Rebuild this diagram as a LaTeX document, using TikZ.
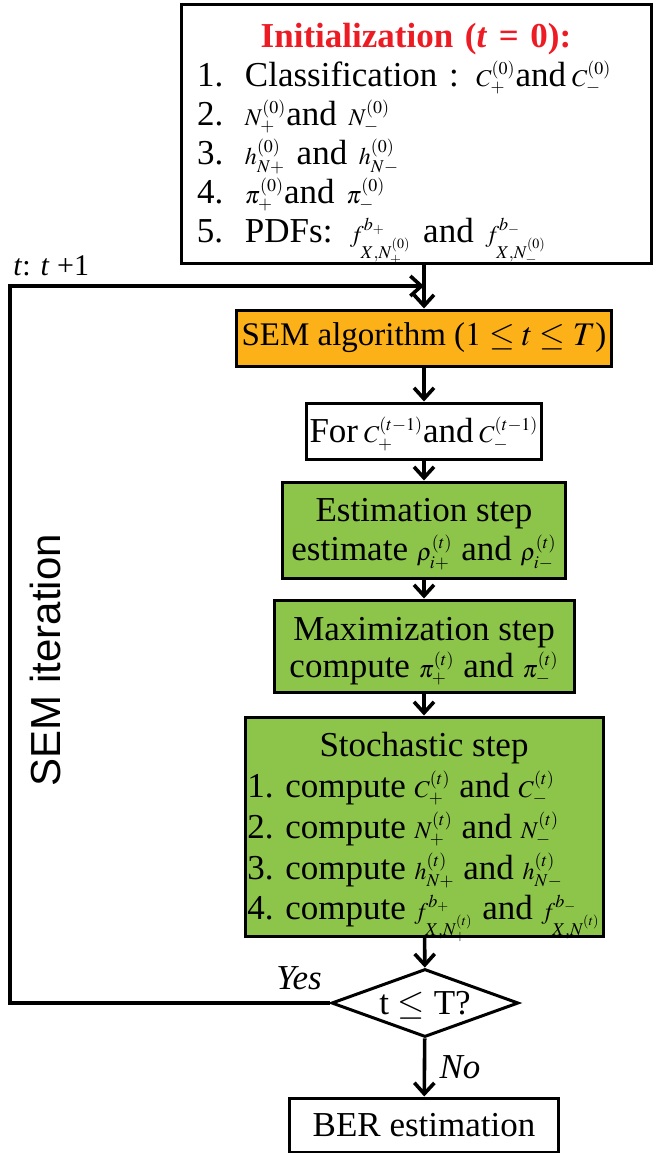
\documentclass[tikz,border=0pt]{standalone}
\usepackage{mathptmx}
\usepackage{fontspec}
\setmainfont{Liberation Serif}
\newfontfamily\sansf{Liberation Sans}
\usetikzlibrary{shapes.geometric,arrows.meta}
\definecolor{semorange}{RGB}{251,177,23}
\definecolor{stepgreen}{RGB}{141,196,74}
\definecolor{initred}{RGB}{237,28,36}
\newcommand{\sm}[1]{\smash{{\fontsize{12}{12}\selectfont$#1$}}}
\newcommand{\itm}[1]{\makebox[24pt][l]{#1}}

\begin{document}
\begin{tikzpicture}[x=0.5pt,y=-0.5pt,
  every node/.style={font=\fontsize{17.5}{19.5}\selectfont},
  L/.style={line width=1.8pt},
  arr/.style={L,-{Straight Barb[length=5.5pt,width=10pt]}},
  box/.style={draw,line width=1.5pt,rectangle,inner sep=0pt},
  stepbox/.style={box,fill=stepgreen,align=center}]

  \useasboundingbox (0,0) rectangle (653,1153);

  %% ---- initialization block
  \node[box,minimum width=235pt,minimum height=129.5pt,text width=219pt,align=left] (init) at (416,133.5)
    {\centering\textcolor{initred}{\textbf{Initialization (\textit{t} = 0):}}\par
     \raggedright
     \itm{1.}Classification : \sm{C_+^{(0)}}and\,\sm{C_-^{(0)}}\\
     \itm{2.}\sm{N_+^{(0)}}and \sm{N_-^{(0)}}\\
     \itm{3.}\sm{h_{N+}^{(0)}} and \sm{h_{N-}^{(0)}}\\
     \itm{4.}\sm{\pi_+^{(0)}}and \sm{\pi_-^{(0)}}\\
     \itm{5.}PDFs: \sm{f_{X{,}N_+^{(0)}}^{b_+}} and \sm{f_{X{,}N_-^{(0)}}^{b_-}}};

  %% ---- SEM loop
  \node[box,fill=semorange,minimum width=187.5pt,minimum height=28pt,font=\fontsize{16.5}{19}\selectfont] (sem) at (424,338)
    {SEM algorithm ({\thickmuskip=4mu$1\leq t\leq T$})};
  \node[box,minimum width=117.5pt,minimum height=28pt] (for) at (424,431)
    {For\,\sm{C_+^{(t-1)}}and\,\sm{C_-^{(t-1)}}};
  \node[stepbox,minimum width=141.5pt,minimum height=48pt] (est) at (424,530)
    {Estimation step\\ estimate \sm{\rho_{i+}^{(t)}} and \sm{\rho_{i-}^{(t)}}};
  \node[stepbox,minimum width=150pt,minimum height=46pt,font=\fontsize{17.5}{18.5}\selectfont] (max) at (424,646)
    {\rule{0pt}{17pt}Maximization step\\ compute \sm{\pi_+^{(t)}} and \sm{\pi_-^{(t)}}};
  \node[stepbox,minimum width=179pt,minimum height=109.5pt] (sto) at (424,826.5)
    {\renewcommand\arraystretch{1.045}%
     \begin{tabular}{@{}l@{}}
      \multicolumn{1}{@{}c@{}}{\rule{0pt}{18pt}Stochastic step}\\
      1. compute \sm{C_+^{(t)}} and \sm{C_-^{(t)}}\\
      2. compute \sm{N_+^{(t)}} and \sm{N_-^{(t)}}\\
      3. compute \sm{h_{N+}^{(t)}} and \sm{h_{N-}^{(t)}}\\
      4. compute \sm{f_{X{,}N_+^{(t)}}^{b_+}} and \sm{f_{X{,}N_-^{(t)}}^{b_-}}
     \end{tabular}};
  \node[draw,line width=1.5pt,diamond,inner sep=0pt,minimum width=93.5pt,minimum height=34pt] (dec) at (425,1003)
    {\smash{\makebox[0pt]{\raisebox{-0.33em}{t $\leq$ T?}}}};
  \node[box,minimum width=134.5pt,minimum height=27pt] (ber) at (424,1125) {BER estimation};

  %% ---- labels
  \node[anchor=west,inner sep=0pt,font=\fontsize{15}{15}\selectfont] (tinc) at (13,266) {\textit{t}: \textit{t} +1};
  \node (yes) at (299,978) {\textit{Yes}};
  \node (no) at (460,1067) {\textit{No}};
  \node[rotate=90,font=\sansf\fontsize{21}{21}\selectfont] (iter) at (45,660) {SEM iteration};

  %% ---- connectors
  \coordinate (loop) at (10,286);
  \draw[arr] (init.south -| sem.north) -- (sem.north);
  \draw[arr] (sem) -- (for);
  \draw[arr] (for) -- (est);
  \draw[arr] (est) -- (max);
  \draw[arr] (max) -- (sto);
  \draw[arr] (sto) -- (dec);
  \draw[arr] (dec) -- (ber);
  \draw[arr] (dec.west) -| (loop) -- (loop -| sem.north);
\end{tikzpicture}
\end{document}
